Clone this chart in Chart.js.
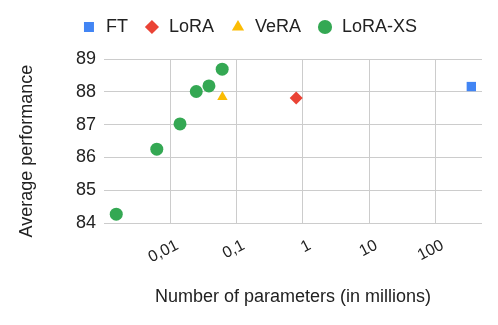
<!DOCTYPE html>
<html>
<head>
<meta charset="utf-8">
<script src="https://cdn.jsdelivr.net/npm/chart.js@4/dist/chart.umd.min.js"></script>
<style>
  html, body { margin: 0; padding: 0; background: #fff; }
  #chart { display: block; }
</style>
</head>
<body>
<canvas id="chart" width="498" height="325"></canvas>
<script>
/* Params (millions) vs average performance */

const methods = ['FT', 'LoRA', 'VeRA', 'LoRA-XS'];

const ftParams = [345];
const ftPerf   = [88.16];

const loraParams = [0.79];
const loraPerf   = [87.81];

const veraParams = [0.061];
const veraPerf   = [87.84];

const loraXsParams = [0.00153, 0.00625, 0.014, 0.0246, 0.0382, 0.0605];
const loraXsPerf   = [84.27, 86.25, 87.02, 88.01, 88.18, 88.69];

const xTicks = [0.01, 0.1, 1, 10, 100];
const yTicks = [84, 85, 86, 87, 88, 89];

const colors = { FT: '#4285f4', LoRA: '#ea4335', VeRA: '#fbbc04', 'LoRA-XS': '#34a853' };
const styles = { FT: 'rect', LoRA: 'rectRot', VeRA: 'triangle', 'LoRA-XS': 'circle' };
const radii  = { FT: 6.6, LoRA: 6.5, VeRA: 6, 'LoRA-XS': 6.5 };

const series = [ftParams, loraParams, veraParams, loraXsParams];
const values = [ftPerf, loraPerf, veraPerf, loraXsPerf];

const txt  = '#222222';
const grid = '#cccccc';

Chart.defaults.font.family = '"Liberation Sans", Arial, sans-serif';

const datasets = methods.map((m, i) => ({
  label: m,
  data: series[i].map((x, j) => ({ x, y: values[i][j] })),
  backgroundColor: colors[m],
  borderColor: colors[m],
  borderWidth: 0,
  pointStyle: styles[m],
  pointRadius: radii[m],
  pointHoverRadius: radii[m],
}));

new Chart(document.getElementById('chart'), {
  type: 'scatter',
  data: { datasets },
  options: {
    responsive: false,
    animation: false,
    layout: { autoPadding: false, padding: { left: 16, right: 16, top: 2, bottom: 0 } },
    plugins: {
      tooltip: { enabled: false },
      legend: {
        position: 'top',
        weight: 3000,
        labels: {
          usePointStyle: true,
          boxWidth: 16,
          boxHeight: 10,
          padding: 16,
          color: txt,
          font: { size: 18 },
        },
      },
      // empty title used as a spacer between legend and plot
      title: { display: true, text: '', padding: 0, font: { size: 13, lineHeight: 1 } },
    },
    scales: {
      x: {
        type: 'logarithmic',
        min: 0.001,
        max: 500,
        bounds: 'data',
        afterBuildTicks: axis => { axis.ticks = xTicks.map(v => ({ value: v })); },
        afterFit: axis => { axis.height = 102; },
        grid: { color: grid, drawTicks: false },
        border: { display: false },
        ticks: {
          autoSkip: false,
          minRotation: 27,
          maxRotation: 27,
          padding: 13,
          labelOffset: 7,
          color: txt,
          font: { size: 16 },
          callback: v => String(v).replace('.', ','),
        },
        title: {
          display: true,
          text: 'Number of parameters (in millions)',
          color: txt,
          font: { size: 18 },
          padding: { top: 0, bottom: 17 },
        },
      },
      y: {
        min: 84,
        max: 89,
        afterBuildTicks: axis => { axis.ticks = yTicks.map(v => ({ value: v })); },
        afterFit: axis => { axis.width = 88; },
        grid: { color: grid, drawTicks: false },
        border: { display: false },
        ticks: { padding: 8, color: txt, font: { size: 18 } },
        title: {
          display: true,
          text: 'Average performance    ',
          color: txt,
          font: { size: 18 },
          padding: { top: 0, bottom: 0 },
        },
      },
    },
  },
});
</script>
</body>
</html>
